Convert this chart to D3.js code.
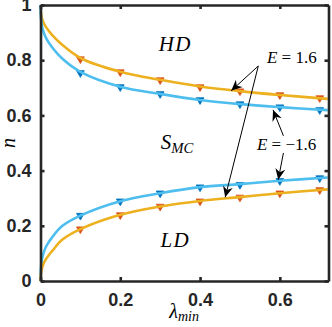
<!DOCTYPE html>
<html>
<head>
<meta charset="utf-8">
<script src="https://cdn.jsdelivr.net/npm/d3@7"></script>
<style>
  body { margin: 0; background: #fff; }
  .tick text { font-family: "Liberation Sans", Arial, sans-serif; font-weight: bold; font-size: 18px; fill: #262626; }
  .math { font-family: "Liberation Serif", "DejaVu Serif", serif; fill: #000; }
</style>
</head>
<body>
<div id="chart"></div>
<script>
// boundary curves
var lamLine  = [0, 0.001, 0.005, 0.014, 0.03, 0.055, 0.1, 0.2, 0.3, 0.4, 0.5, 0.6, 0.72];
var hdOrange = [1, 0.97, 0.945, 0.92, 0.89, 0.855, 0.808, 0.758, 0.729, 0.705, 0.688, 0.674, 0.66];
var hdBlue   = [1, 0.955, 0.915, 0.88, 0.845, 0.805, 0.758, 0.704, 0.678, 0.656, 0.641, 0.630, 0.619];
var ldBlue   = [0, 0.045, 0.088, 0.125, 0.16, 0.2, 0.237, 0.289, 0.318, 0.34, 0.351, 0.363, 0.375];
var ldOrange = [0, 0.025, 0.053, 0.08, 0.11, 0.15, 0.188, 0.24, 0.27, 0.29, 0.304, 0.318, 0.332];

// simulation markers
var lamMk      = [0.1, 0.2, 0.3, 0.4, 0.5, 0.6, 0.7];
var mkHdOrange = [0.804, 0.757, 0.728, 0.703, 0.688, 0.674, 0.663];
var mkHdBlue   = [0.754, 0.703, 0.678, 0.656, 0.641, 0.630, 0.620];
var mkLdBlue   = [0.237, 0.289, 0.318, 0.340, 0.349, 0.363, 0.373];
var mkLdOrange = [0.188, 0.239, 0.270, 0.289, 0.303, 0.318, 0.330];

var xTicks = [0, 0.2, 0.4, 0.6];
var yTicks = [0, 0.2, 0.4, 0.6, 0.8, 1];

var W = 332, H = 327;
var margin = { top: 5, right: 3.5, bottom: 46, left: 40.5 },
    width = W - margin.left - margin.right,
    height = H - margin.top - margin.bottom;

var svg = d3.select("#chart").append("svg")
    .attr("width", W).attr("height", H)
    .append("g")
    .attr("transform", "translate(" + margin.left + "," + margin.top + ")");

var x = d3.scaleLinear().domain([0, 0.722]).range([0, width]);
var y = d3.scaleLinear().domain([0, 1]).range([height, 0]);

var cLineO = "#EDB120", cLineB = "#4DBEEE", cMkO = "#D95319", cMkB = "#0072BD";

// curves
var line = d3.line()
    .x(function (d) { return x(d[0]); })
    .y(function (d) { return y(d[1]); })
    .curve(d3.curveCatmullRom.alpha(0.5));

function zip(a, b) { return a.map(function (v, i) { return [v, b[i]]; }); }

var series = [
  { line: hdOrange, mk: mkHdOrange, lc: cLineO, mc: cMkO },
  { line: hdBlue,   mk: mkHdBlue,   lc: cLineB, mc: cMkB },
  { line: ldBlue,   mk: mkLdBlue,   lc: cLineB, mc: cMkB },
  { line: ldOrange, mk: mkLdOrange, lc: cLineO, mc: cMkO }
];

var tri = d3.symbol().type(d3.symbolTriangle).size(26);

series.forEach(function (s) {
  svg.append("g").selectAll("path")
    .data(zip(lamMk, s.mk))
    .enter().append("path")
    .attr("d", tri)
    .attr("transform", function (d) { return "translate(" + x(d[0]) + "," + y(d[1]) + ") rotate(180)"; })
    .attr("fill", s.mc)
    .attr("stroke", s.mc)
    .attr("stroke-width", 0.8);
});

series.forEach(function (s) {
  svg.append("path")
    .datum(zip(lamLine, s.line))
    .attr("d", line)
    .attr("fill", "none")
    .attr("stroke", s.lc)
    .attr("stroke-width", 2.6);
});

// axes
var axColor = "#262626";
var xAxis = svg.append("g").attr("transform", "translate(0," + height + ")")
    .call(d3.axisBottom(x).tickValues(xTicks).tickSizeInner(-4).tickSizeOuter(0).tickPadding(12)
      .tickFormat(function (d) { return d === 0 ? "0" : d3.format(".1f")(d); }));
var yAxis = svg.append("g")
    .call(d3.axisLeft(y).tickValues(yTicks).tickSizeInner(-4).tickSizeOuter(0).tickPadding(9)
      .tickFormat(function (d) { return (d === 0 || d === 1) ? String(d) : d3.format(".1f")(d); }));
var xTop = svg.append("g")
    .call(d3.axisTop(x).tickValues(xTicks).tickSizeInner(-4).tickSizeOuter(0).tickFormat(""));
var yRight = svg.append("g").attr("transform", "translate(" + width + ",0)")
    .call(d3.axisRight(y).tickValues(yTicks).tickSizeInner(-4).tickSizeOuter(0).tickFormat(""));

[xAxis, yAxis, xTop, yRight].forEach(function (a) {
  a.select(".domain").attr("stroke", axColor).attr("stroke-width", 2.6);
  a.selectAll(".tick line").attr("stroke", axColor).attr("stroke-width", 2.6);
});

// region labels
function mathText(px, py, parts, size) {
  var t = svg.append("text").attr("class", "math")
      .attr("x", px).attr("y", py)
      .attr("text-anchor", "middle")
      .attr("dominant-baseline", "central")
      .style("font-size", size + "px");
  parts.forEach(function (p) {
    var ts = t.append("tspan").text(p.t);
    if (p.i) ts.style("font-style", "italic");
    if (p.sub) ts.style("font-size", (size * 0.7) + "px").attr("dy", size * 0.3);
  });
  return t;
}

mathText(x(0.338), y(0.86), [{ t: "H", i: 1 }, { t: "D", i: 1 }], 21).attr("letter-spacing", 1.5);
mathText(x(0.342), y(0.505), [{ t: "S", i: 1 }, { t: "MC", i: 1, sub: 1 }], 21);
mathText(x(0.338), y(0.149), [{ t: "L", i: 1 }, { t: "D", i: 1 }], 21).attr("letter-spacing", 1.5);

mathText(x(0.63), y(0.81), [{ t: "E", i: 1 }, { t: " = 1.6" }], 17);
mathText(x(0.617), y(0.497), [{ t: "E", i: 1 }, { t: " = \u22121.6" }], 17);

// arrows
var arrows = [
  { from: [0.546, 0.779], to: [0.478, 0.689] },
  { from: [0.546, 0.779], to: [0.463, 0.303] },
  { from: [0.609, 0.526], to: [0.583, 0.620] },
  { from: [0.609, 0.464], to: [0.596, 0.367] }
];

arrows.forEach(function (a) {
  var x1 = x(a.from[0]), y1 = y(a.from[1]), x2 = x(a.to[0]), y2 = y(a.to[1]);
  var ang = Math.atan2(y2 - y1, x2 - x1) * 180 / Math.PI;
  svg.append("line")
    .attr("x1", x1).attr("y1", y1).attr("x2", x2).attr("y2", y2)
    .attr("stroke", "#000").attr("stroke-width", 1);
  svg.append("path")
    .attr("d", "M0,0L-11,-5L-7.5,0L-11,5Z")
    .attr("transform", "translate(" + x2 + "," + y2 + ") rotate(" + ang + ")")
    .attr("fill", "#000");
});

// axis titles
svg.append("text").attr("class", "math")
    .attr("transform", "translate(" + (-33) + "," + y(0.5) + ") rotate(-90)")
    .attr("text-anchor", "middle")
    .attr("dominant-baseline", "central")
    .style("font-size", "20px").style("font-style", "italic")
    .text("n");

var xl = svg.append("text").attr("class", "math")
    .attr("x", x(0.36)).attr("y", height + 30)
    .attr("text-anchor", "middle")
    .attr("dominant-baseline", "central")
    .style("font-size", "20px");
xl.append("tspan").style("font-style", "italic").text("\u03bb");
xl.append("tspan").style("font-style", "italic").style("font-size", "14px").attr("dy", 5).text("min");
</script>
</body>
</html>
